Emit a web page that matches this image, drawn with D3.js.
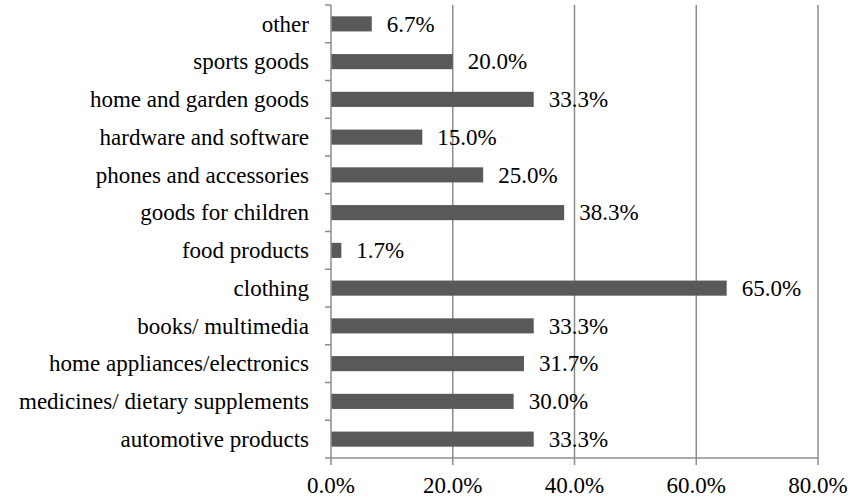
<html>
<head>
<meta charset="utf-8">
<script src="https://cdn.jsdelivr.net/npm/d3@7"></script>
</head>
<body style="margin:0">
<svg id="chart" width="851" height="499"></svg>
<script>
// Share of respondents by product category (top to bottom)
const categories = [
  "other",
  "sports goods",
  "home and garden goods ",
  "hardware and software",
  "phones and accessories",
  "goods for children",
  "food products",
  "clothing",
  "books/ multimedia",
  "home appliances/electronics",
  "medicines/ dietary supplements",
  "automotive products"
];
const values = [6.7, 20.0, 33.3, 15.0, 25.0, 38.3, 1.7, 65.0, 33.3, 31.7, 30.0, 33.3];
const xTicks = [0, 20, 40, 60, 80];

const svg = d3.select("#chart");
const margin = { left: 331, right: 33, top: 5, bottom: 41 };
const W = 851, H = 499;
const fontSize = 23;
const gridColor = "#8c8c8c";
const barColor = "#595959";

const x = d3.scaleLinear().domain([0, 80]).range([margin.left, W - margin.right]);
const y = d3.scaleBand().domain(categories).range([margin.top, H - margin.bottom]).paddingInner(0.6).paddingOuter(0.3);
const yBottom = H - margin.bottom;

// shared text styling
function label(sel) {
  return sel
    .attr("font-family", "Liberation Serif")
    .style("font-family", '"Liberation Serif"')
    .style("font-size", fontSize + "px")
    .attr("fill", "#000");
}

// vertical gridlines
svg.append("g")
  .selectAll("line")
  .data(xTicks.filter(t => t > 0))
  .join("line")
  .attr("x1", d => x(d)).attr("x2", d => x(d))
  .attr("y1", margin.top).attr("y2", yBottom)
  .attr("stroke", gridColor).attr("stroke-width", 1.5);

// bars
svg.append("g")
  .selectAll("rect")
  .data(categories.map((c, i) => ({ c, v: values[i] })))
  .join("rect")
  .attr("x", x(0))
  .attr("y", d => y(d.c))
  .attr("width", d => x(d.v) - x(0))
  .attr("height", y.bandwidth())
  .attr("fill", barColor);

// value labels just past the end of each bar
svg.selectAll("text.val")
  .data(categories.map((c, i) => ({ c, v: values[i] })))
  .join("text").attr("class", "val")
  .attr("x", d => x(d.v) + 15)
  .attr("y", d => y(d.c) + y.bandwidth() / 2 + fontSize * 0.34)
  .call(label)
  .text(d => d.v.toFixed(1) + "%");

// horizontal axis line, ticks and labels
svg.append("line")
  .attr("x1", x(0)).attr("x2", x(80))
  .attr("y1", yBottom).attr("y2", yBottom)
  .attr("stroke", gridColor).attr("stroke-width", 1.5);
svg.selectAll("line.xt")
  .data(xTicks)
  .join("line").attr("class", "xt")
  .attr("x1", d => x(d)).attr("x2", d => x(d))
  .attr("y1", yBottom).attr("y2", yBottom + 7)
  .attr("stroke", gridColor).attr("stroke-width", 1.5);
svg.selectAll("text.xl")
  .data(xTicks)
  .join("text").attr("class", "xl")
  .attr("x", d => x(d))
  .attr("y", yBottom + 35)
  .attr("text-anchor", "middle")
  .call(label)
  .text(d => d.toFixed(1) + "%");

// vertical axis: ticks at category boundaries, labels centred in each band
const bounds = d3.range(categories.length + 1).map(i => margin.top + i * (yBottom - margin.top) / categories.length);
svg.append("line")
  .attr("x1", x(0)).attr("x2", x(0))
  .attr("y1", margin.top).attr("y2", yBottom)
  .attr("stroke", gridColor).attr("stroke-width", 1.5);
svg.selectAll("line.tk")
  .data(bounds)
  .join("line").attr("class", "tk")
  .attr("x1", x(0) - 6).attr("x2", x(0))
  .attr("y1", d => d).attr("y2", d => d)
  .attr("stroke", gridColor).attr("stroke-width", 1.5);
svg.selectAll("text.cat")
  .data(categories)
  .join("text").attr("class", "cat")
  .attr("x", x(0) - 22)
  .attr("y", d => y(d) + y.bandwidth() / 2 + fontSize * 0.34)
  .attr("text-anchor", "end")
  .call(label)
  .text(d => d);
</script>
</body>
</html>
